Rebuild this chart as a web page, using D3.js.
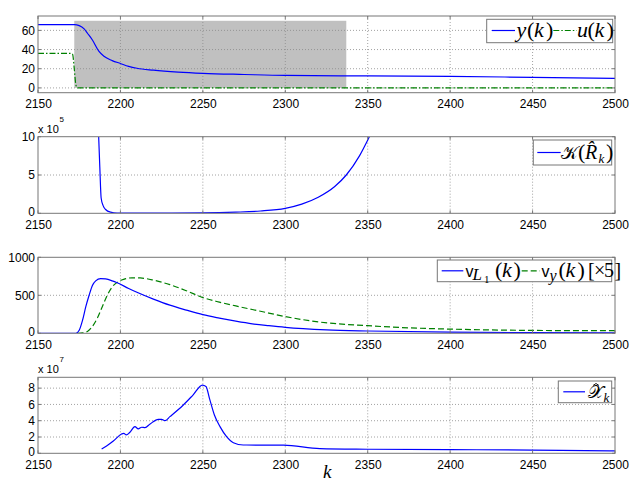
<!DOCTYPE html>
<html><head><meta charset="utf-8">
<script src="https://cdn.jsdelivr.net/npm/d3@7/dist/d3.min.js"></script>
<style>
body{margin:0;background:#fff}
svg{display:block}
text{font-family:"Liberation Sans",Arial,sans-serif;fill:#000}
.m{font-family:"Liberation Serif","Times New Roman",serif}
</style></head><body>
<script>
// ---------- data ----------
const kDomain = [2150, 2500];
const xTicks = [2150, 2200, 2250, 2300, 2350, 2400, 2450, 2500];

// panel 1 : y(k), u(k), shaded interval
const yK = [2150,2172,2175,2178,2180,2183,2187,2190,2195,2200,2205,2210,2220,2235,2250,2275,2300,2350,2400,2450,2500];
const yV = [66,66,65,61.5,57,50,38,33,28.5,25.5,22.5,20.5,18.5,16.5,15.2,14,13,12.5,12,11,10];
const uK = [2150,2170,2171,2172,2173,2174,2500];
const uV = [36,36,35,20,3,0,0];
const shadeK = [2172, 2337];
const shadeV = [0, 70];
const p1Ticks = [0, 20, 40, 60];

// panel 2 : condition number K(R_k) (x 1e5)
const cK = [2186.8,2187.5,2188.3,2189.5,2191,2194,2198,2220,2250,2270,2285,2300,2310,2320,2330,2337,2345,2351];
const cV = [10,6,2,1,0.5,0.15,0.03,0.02,0.05,0.15,0.3,0.65,1.2,2.1,3.5,5,7.5,10];
const p2Ticks = [0, 5, 10];

// panel 3 : v_L1(k) and v_y(k) [x5]
const lK = [2150,2173,2175,2177,2179,2181,2183,2185,2188,2191,2195,2198,2205,2210,2220,2230,2240,2250,2260,2270,2280,2290,2300,2325,2350,2400,2450,2500];
const lV = [0,0,40,170,350,500,630,690,720,715,690,665,590,540,450,370,305,245,200,160,125,100,78,45,30,15,9,5];
const vyK = [2174,2177,2180,2183,2186,2189,2192,2195,2198,2202,2207,2212,2220,2230,2240,2250,2260,2270,2285,2300,2320,2350,2375,2400,2450,2500];
const vyV = [0,5,25,90,200,350,500,610,670,710,730,728,700,640,560,470,410,360,290,220,150,100,72,55,38,34];
const p3Ticks = [0, 500, 1000];

// panel 4 : X_k (x 1e7)
const xhK = [2188.6,2191.6,2195.7,2200.7,2202,2203.6,2205.6,2208.8,2210.8,2212.9,2214.9,2218,2223,2225,2227,2230,2238,2244,2249.7,2251.9,2254,2257,2260.4,2264.4,2268.5,2274.5,2299,2321,2350,2400,2450,2500];
const xhV = [0.53,0.9,1.5,2.37,2.45,2.25,2.55,3.27,3.0,3.2,3.15,3.6,4.17,4.17,4.0,4.5,5.9,7.15,8.38,8.2,6.75,4.7,3.27,2.04,1.3,1.02,1.0,0.57,0.5,0.45,0.4,0.3];
const p4Ticks = [0, 2, 4, 6, 8];

// ---------- drawing ----------
const W = 631, H = 481;
const svg = d3.select("body").append("svg").attr("width", W).attr("height", H);
const x = d3.scaleLinear().domain(kDomain).range([38, 615]);
const BLUE = "#0000ff", GREEN = "#008000", AX = "#777";

function panel(top, bottom, domain, yTicks, id) {
  const y = d3.scaleLinear().domain(domain).range([bottom, top]);
  const g = svg.append("g");
  svg.append("clipPath").attr("id", id).append("rect")
    .attr("x", x.range()[0]).attr("y", top).attr("width", x.range()[1]-x.range()[0]).attr("height", bottom-top);
  return {y, g, top, bottom, yTicks, id};
}
function grid(p) {
  const gg = p.g.append("g").attr("stroke", "#8a8a8a").attr("stroke-width", 0.8).attr("stroke-dasharray", "1,2");
  xTicks.slice(1, -1).forEach(t => gg.append("line").attr("x1", x(t)).attr("x2", x(t)).attr("y1", p.top).attr("y2", p.bottom));
  p.yTicks.filter(t => p.y(t) > p.top + 0.5 && p.y(t) < p.bottom - 0.5)
    .forEach(t => gg.append("line").attr("x1", x.range()[0]).attr("x2", x.range()[1]).attr("y1", p.y(t)).attr("y2", p.y(t)));
}
function series(p, ks, vs, color, dash) {
  const data = ks.map((k, i) => [k, vs[i]]);
  p.g.append("path").datum(data)
    .attr("clip-path", `url(#${p.id})`)
    .attr("fill", "none").attr("stroke", color).attr("stroke-width", 1.2)
    .attr("stroke-dasharray", dash || null)
    .attr("d", d3.line().x(d => x(d[0])).y(d => p.y(d[1])).curve(d3.curveMonotoneX));
}
function frame(p) {
  const [x0, x1] = x.range();
  p.g.append("rect").attr("x", x0).attr("y", p.top).attr("width", x1-x0).attr("height", p.bottom-p.top)
    .attr("fill", "none").attr("stroke", AX).attr("stroke-width", 1);
  const ax = d3.axisBottom(x).tickValues(xTicks).tickSize(0).tickPadding(0).tickFormat(d3.format("d"));
  const xa = p.g.append("g").attr("transform", `translate(0,${p.bottom})`).call(ax);
  xa.select(".domain").remove();
  xa.selectAll("text").attr("y", 15.3).attr("dy", null).style("font-size", "12px").style("font-family", '"Liberation Sans",Arial,sans-serif');
  const ay = d3.axisLeft(p.y).tickValues(p.yTicks).tickSize(0).tickPadding(3).tickFormat(d3.format("d"));
  const ya = p.g.append("g").attr("transform", `translate(${x0},0)`).call(ay);
  ya.select(".domain").remove();
  ya.selectAll("text").style("font-size", "12px").style("font-family", '"Liberation Sans",Arial,sans-serif')
    .attr("y", d => (Math.abs(p.y(d) - p.bottom) < 1 ? -2 : 0));
  const tk = p.g.append("g").attr("stroke", AX);
  xTicks.forEach(t => {
    tk.append("line").attr("x1", x(t)).attr("x2", x(t)).attr("y1", p.bottom).attr("y2", p.bottom-3);
    tk.append("line").attr("x1", x(t)).attr("x2", x(t)).attr("y1", p.top).attr("y2", p.top+3);
  });
  p.yTicks.forEach(t => {
    tk.append("line").attr("x1", x0).attr("x2", x0+3).attr("y1", p.y(t)).attr("y2", p.y(t));
    tk.append("line").attr("x1", x1).attr("x2", x1-3).attr("y1", p.y(t)).attr("y2", p.y(t));
  });
}
function expo(p, e) {
  p.g.append("text").attr("x", 38).attr("y", p.top - 4).style("font-size", "11px").text("x 10");
  p.g.append("text").attr("x", 59.5).attr("y", p.top - 15).style("font-size", "8px").text(e);
}
function legendBox(g, x0, y0, w, h) {
  g.append("rect").attr("x", x0).attr("y", y0).attr("width", w).attr("height", h)
    .attr("fill", "#fff").attr("stroke", AX).attr("stroke-width", 1);
}
function lline(g, x0, x1, yy, color, dash) {
  g.append("line").attr("x1", x0).attr("x2", x1).attr("y1", yy).attr("y2", yy)
    .attr("stroke", color).attr("stroke-width", 1.2).attr("stroke-dasharray", dash || null);
}
function glyph(g, s, xx, yy, size, italic, cls) {
  g.append("text").attr("class", cls === undefined ? "m" : cls).attr("x", xx).attr("y", yy)
    .style("font-size", size + "px").style("font-style", italic ? "italic" : "normal").text(s);
}
function hat(g, cx, cy) {
  g.append("path").attr("d", `M${cx-3},${cy+2}L${cx},${cy}L${cx+3},${cy+2}`)
    .attr("fill", "none").attr("stroke", "#000").attr("stroke-width", 0.9);
}

// Panel 1
const P1 = panel(16, 92.7, [-5, 75], p1Ticks, "c1");
P1.g.append("rect").attr("x", x(shadeK[0])).attr("width", x(shadeK[1]) - x(shadeK[0]))
  .attr("y", P1.y(shadeV[1])).attr("height", P1.y(shadeV[0]) - P1.y(shadeV[1])).attr("fill", "#c0c0c0");
grid(P1);
series(P1, uK, uV, GREEN, "6,2,1.5,2");
series(P1, yK, yV, BLUE);
frame(P1);
{
  const g = svg.append("g");
  legendBox(g, 486.7, 19.3, 126, 23.4);
  lline(g, 491.7, 515, 30.5, BLUE);
  glyph(g, "y", 516.5, 36.5, 22, true);
  glyph(g, "(", 527, 36.5, 22, false); glyph(g, "k", 534, 36.5, 22, true); glyph(g, ")", 546, 36.5, 22, false);
  lline(g, 553.3, 576.7, 30.5, GREEN, "6,2,1.5,2");
  glyph(g, "u", 577, 36.5, 22, true);
  glyph(g, "(", 587.5, 36.5, 22, false); glyph(g, "k", 594.5, 36.5, 22, true); glyph(g, ")", 606.5, 36.5, 22, false);
}

// Panel 2
const P2 = panel(136.7, 213.3, [0, 10], p2Ticks, "c2");
grid(P2);
series(P2, cK, cV, BLUE);
frame(P2);
expo(P2, "5");
{
  const g = svg.append("g");
  legendBox(g, 533.3, 140, 78.4, 25);
  lline(g, 537.3, 560.7, 152.5, BLUE);
  glyph(g, "\u{1D4A6}", 561, 159, 18, false);
  glyph(g, "(", 578, 159, 22, false);
  glyph(g, "R\u0302", 585, 159, 20, true);
  glyph(g, "k", 598.5, 163, 13, true);
  glyph(g, ")", 606, 159, 22, false);
}

// Panel 3
const P3 = panel(257.3, 333.3, [0, 1000], p3Ticks, "c3");
grid(P3);
series(P3, vyK, vyV, GREEN, "6,3");
series(P3, lK, lV, BLUE);
frame(P3);
{
  const g = svg.append("g");
  legendBox(g, 437.3, 260, 174.4, 21.7);
  lline(g, 441.7, 463.3, 270.8, BLUE);
  glyph(g, "v", 465.5, 277, 16, false, "");
  glyph(g, "L", 472.5, 280, 17, true);
  glyph(g, "1", 484, 283, 11, false);
  glyph(g, "(", 495, 277, 22, false); glyph(g, "k", 502, 277, 22, true); glyph(g, ")", 513.5, 277, 22, false);
  lline(g, 521.7, 540, 270.8, GREEN, "6,3");
  glyph(g, "v", 541.5, 277, 16, false, "");
  glyph(g, "y", 549.5, 281, 16, true);
  glyph(g, "(", 558.5, 277, 22, false); glyph(g, "k", 565.5, 277, 22, true); glyph(g, ")", 577.5, 277, 22, false);
  glyph(g, "[", 588, 277, 20, false); glyph(g, "\u00D7", 594, 277, 20, false);
  glyph(g, "5", 604, 277, 20, false); glyph(g, "]", 614.5, 277, 20, false);
}

// Panel 4
const P4 = panel(377.3, 453.3, [0, 9.33], p4Ticks, "c4");
grid(P4);
series(P4, xhK, xhV, BLUE);
frame(P4);
expo(P4, "7");
{
  const g = svg.append("g");
  legendBox(g, 558.3, 381, 53.4, 21.7);
  lline(g, 563.3, 585, 391.8, BLUE);
  glyph(g, "\u{1D4B3}", 587.5, 398, 18, false);
  hat(g, 596, 383.5);
  glyph(g, "k", 603.5, 401.5, 13, true);
}

// x label
svg.append("text").attr("class", "m").attr("x", 323).attr("y", 478)
  .style("font-size", "19px").style("font-style", "italic").text("k");
</script>
</body></html>
